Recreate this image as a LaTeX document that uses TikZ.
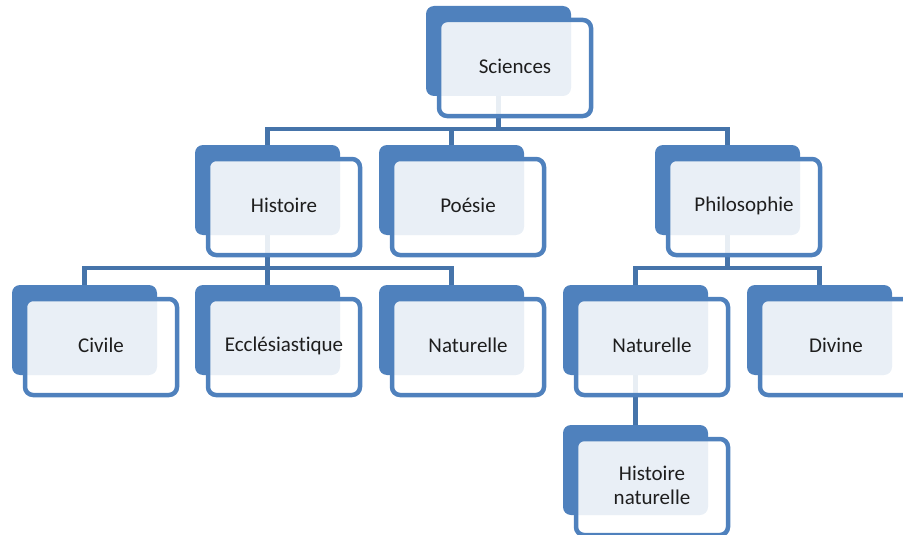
\documentclass[tikz,border=0pt]{standalone}
\usepackage{fontspec}
\setmainfont{Carlito}[Ligatures={NoCommon}]
\definecolor{accent}{HTML}{4F81BD}
\definecolor{connc}{HTML}{4674AA}
\definecolor{txt}{HTML}{1E1E1E}
\pgfdeclarelayer{bg}
\pgfsetlayers{bg,main}
\newcommand\orgunit[4]{%
  \node[backbox] (#1B) at (#2,#3) {};
  \node[frontbox] (#1) at (#2+89,#3+62) {};
  \node[labeltext] (#1T) at (#2+89,#3+60.5) {#4};}
\begin{document}
\begin{tikzpicture}[x=1pt,y=-1pt,
  backbox/.style={fill=accent, draw=none, rounded corners=8pt, minimum width=145pt,
    minimum height=90pt, inner sep=0pt, outer sep=0pt, anchor=north west},
  frontbox/.style={draw=accent, line width=4.5pt, fill=white, fill opacity=0.88,
    rounded corners=8pt, minimum width=152pt, minimum height=96pt, inner sep=0pt},
  labeltext/.style={align=center, text=txt, inner sep=0pt,
    font=\fontsize{21}{23.5}\selectfont},
  conn/.style={draw=connc, line width=4.5pt}]
\useasboundingbox (0,0) rectangle (903,535);
\clip (0,0) rectangle (903,535);
\orgunit{sci}{426}{6}{Sciences}
\orgunit{hist}{195}{145}{Histoire}
\orgunit{poe}{379}{145}{Poésie}
\orgunit{phil}{655}{145}{Philosophie}
\orgunit{civ}{12}{285}{Civile}
\orgunit{ecc}{195}{285}{Ecclésiastique}
\orgunit{natL}{379}{285}{Naturelle}
\orgunit{natR}{563}{285}{Naturelle}
\orgunit{div}{747}{285}{Divine}
\orgunit{hn}{563}{425}{Histoire\\naturelle}
\begin{pgfonlayer}{bg}
  \draw[conn] (sciB.south) -- ++(0,33) -| (histB.north);
  \draw[conn] (sciB.south) -- ++(0,33) -| (poeB.north);
  \draw[conn] (sciB.south) -- ++(0,33) -| (philB.north);
  \draw[conn] (histB.south) -- ++(0,33) -| (civB.north);
  \draw[conn] (histB.south) -- ++(0,33) -| (eccB.north);
  \draw[conn] (histB.south) -- ++(0,33) -| (natLB.north);
  \draw[conn] (philB.south) -- ++(0,33) -| (natRB.north);
  \draw[conn] (philB.south) -- ++(0,33) -| (divB.north);
  \draw[conn] (natRB.south) -- (hnB.north);
\end{pgfonlayer}
\end{tikzpicture}
\end{document}
